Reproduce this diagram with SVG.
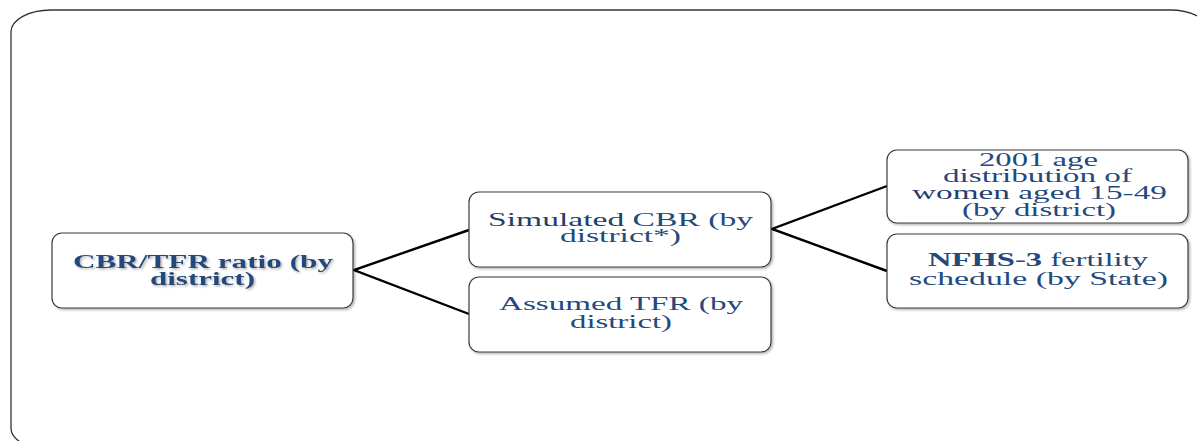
<svg xmlns="http://www.w3.org/2000/svg" width="1197" height="441" viewBox="0 0 1197 441">
  <style>
    .box { fill: #ffffff; stroke: #3c3c3c; stroke-width: 1.2; }
    .lbl { font-family: "Liberation Serif", "Times New Roman", serif; font-size: 18px; fill: #234a7c; text-anchor: middle; }
    .b { font-weight: bold; }
    .sh { fill: #1f3f6c; }
    .conn { stroke: #000000; stroke-width: 2.4; fill: none; }
    .frame { fill: none; stroke: #333333; stroke-width: 1.3; }
  </style>
  <defs>
    <filter id="bshadow" x="-5%" y="-10%" width="115%" height="130%">
      <feDropShadow dx="1.5" dy="1.5" stdDeviation="1" flood-color="#000000" flood-opacity="0.3"/>
    </filter>
    <filter id="tshadow" x="-5%" y="-20%" width="115%" height="150%">
      <feDropShadow dx="1.5" dy="1.5" stdDeviation="1" flood-color="#808080" flood-opacity="0.6"/>
    </filter>
  </defs>
  <rect width="1197" height="441" fill="#ffffff"/>
  <rect class="frame" x="11" y="10" width="1199" height="440" rx="40" ry="22"/>

  <g id="connectors">
    <polyline class="conn" points="469,230 354,270 469,314"/>
    <polyline class="conn" points="887,186 772,229 887,271"/>
  </g>

  <g id="node-cbr-tfr">
    <rect class="box" filter="url(#bshadow)" x="52" y="233" width="301" height="75" rx="10" ry="10"/>
    <text class="lbl b" filter="url(#tshadow)" x="203" y="268" textLength="260" lengthAdjust="spacingAndGlyphs">CBR/TFR ratio (by</text>
    <text class="lbl b" filter="url(#tshadow)" x="202.5" y="285" textLength="105" lengthAdjust="spacingAndGlyphs">district)</text>
  </g>

  <g id="node-simulated-cbr">
    <rect class="box" filter="url(#bshadow)" x="469" y="192" width="302" height="75" rx="10" ry="10"/>
    <text class="lbl" x="620.5" y="226" textLength="265" lengthAdjust="spacingAndGlyphs"><tspan class="sh">Simulated</tspan> CBR (by</text>
    <text class="lbl" x="620.5" y="242" textLength="121" lengthAdjust="spacingAndGlyphs">district*)</text>
  </g>

  <g id="node-assumed-tfr">
    <rect class="box" filter="url(#bshadow)" x="469" y="277" width="302" height="75" rx="10" ry="10"/>
    <text class="lbl" x="621" y="310" textLength="244" lengthAdjust="spacingAndGlyphs">Assumed TFR (by</text>
    <text class="lbl" x="621" y="328" textLength="102" lengthAdjust="spacingAndGlyphs">district)</text>
  </g>

  <g id="node-age-distribution">
    <rect class="box" filter="url(#bshadow)" x="887" y="150" width="301" height="73" rx="10" ry="10"/>
    <text class="lbl" x="1038.5" y="166" textLength="119" lengthAdjust="spacingAndGlyphs">2001 age</text>
    <text class="lbl" x="1037.5" y="182" textLength="189" lengthAdjust="spacingAndGlyphs">distribution of</text>
    <text class="lbl" x="1039.5" y="199" textLength="255" lengthAdjust="spacingAndGlyphs"><tspan class="sh">women</tspan> aged 15-49</text>
    <text class="lbl" x="1039" y="216" textLength="154" lengthAdjust="spacingAndGlyphs">(by district)</text>
  </g>

  <g id="node-nfhs3">
    <rect class="box" filter="url(#bshadow)" x="887" y="234" width="301" height="74" rx="10" ry="10"/>
    <text class="lbl" x="1038" y="266" textLength="220" lengthAdjust="spacingAndGlyphs"><tspan class="b">NFHS-3</tspan> fertility</text>
    <text class="lbl" x="1038.5" y="285" textLength="259" lengthAdjust="spacingAndGlyphs">schedule (by State)</text>
  </g>
</svg>
